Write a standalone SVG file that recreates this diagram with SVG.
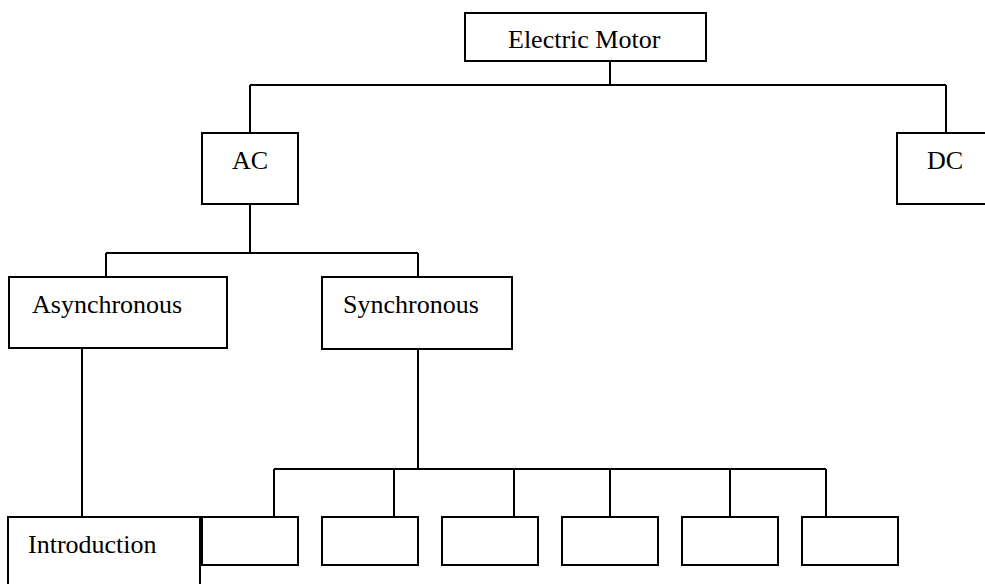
<svg xmlns="http://www.w3.org/2000/svg" width="985" height="584" viewBox="0 0 985 584">
<style>
.box{fill:#fff;stroke:#000;stroke-width:2}
.ln{fill:none;stroke:#000;stroke-width:2}
.t{font-family:"Liberation Serif","Times New Roman",serif;font-size:26px;fill:#000}
</style>
<rect width="985" height="584" fill="#fff"/>
<g id="connectors">
<path class="ln" d="M610,61V85M250,85H946M250,85V133M946,85V133"/>
<path class="ln" d="M250,204V253M106,253H418M106,253V277M418,253V277"/>
<path class="ln" d="M82,348V517"/>
<path class="ln" d="M418,349V469M274,469H826M274,469V517M394,469V517M514,469V517M610,469V517M730,469V517M826,469V517"/>
</g>
<g id="electric-motor"><rect class="box" x="465" y="13" width="241" height="48"/><text class="t" x="508" y="48">Electric Motor</text></g>
<g id="ac"><rect class="box" x="202" y="133" width="96" height="71"/><text class="t" x="232" y="169">AC</text></g>
<g id="dc"><rect class="box" x="897" y="133" width="100" height="71"/><text class="t" x="927" y="169">DC</text></g>
<g id="asynchronous"><rect class="box" x="9" y="277" width="218" height="71"/><text class="t" x="32" y="313">Asynchronous</text></g>
<g id="synchronous"><rect class="box" x="322" y="277" width="190" height="72"/><text class="t" x="343" y="313">Synchronous</text></g>
<g id="introduction"><rect class="box" x="8" y="517" width="192" height="80"/><text class="t" x="28" y="553">Introduction</text></g>
<g id="s1"><rect class="box" x="202" y="517" width="96" height="48"/></g>
<g id="s2"><rect class="box" x="322" y="517" width="96" height="48"/></g>
<g id="s3"><rect class="box" x="442" y="517" width="96" height="48"/></g>
<g id="s4"><rect class="box" x="562" y="517" width="96" height="48"/></g>
<g id="s5"><rect class="box" x="682" y="517" width="96" height="48"/></g>
<g id="s6"><rect class="box" x="802" y="517" width="96" height="48"/></g>
</svg>
